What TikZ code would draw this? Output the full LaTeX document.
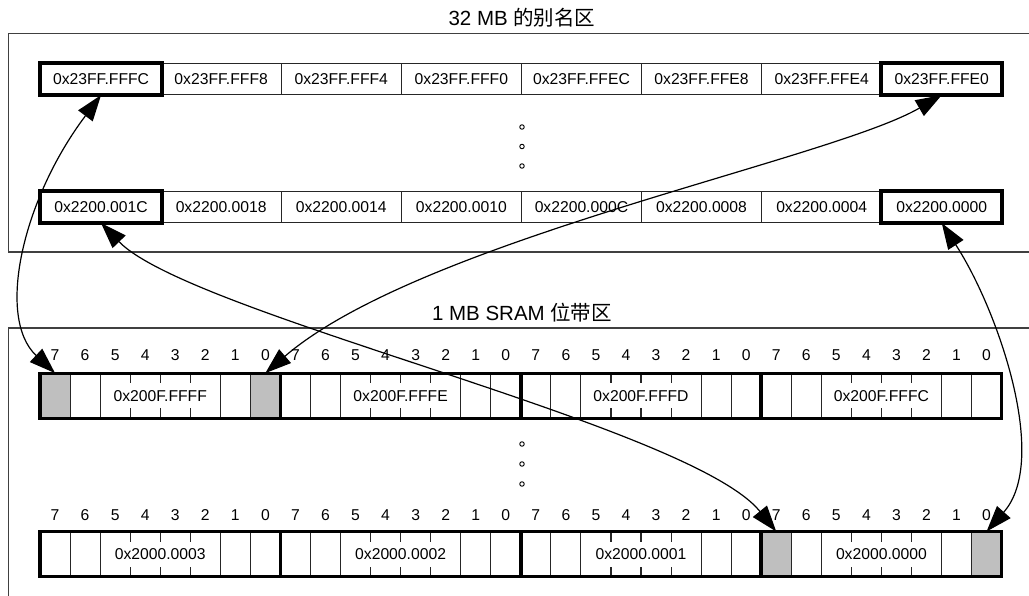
\documentclass[tikz,border=0pt]{standalone}
\usepackage{fontspec}
\setmainfont{Liberation Sans}
\newfontfamily\cjkfont{Noto Sans CJK SC}
\usetikzlibrary{arrows.meta,calc}
\tikzset{
  panel/.style={line width=1.5pt, draw=black!75},
  cell/.style={draw=black!85, line width=1.2pt, minimum width=120.1pt, minimum height=31pt, inner sep=0pt, font=\fontsize{15.7}{18}\selectfont},
  thickbox/.style={draw=black, line width=4pt},
  bytebox/.style={draw=black, line width=3.5pt},
  divider/.style={draw=black!85, line width=1.1pt},
  bitnum/.style={inner sep=0pt, font=\fontsize{15.7}{18}\selectfont},
  bytelabel/.style={inner sep=0pt, font=\fontsize{15.7}{18}\selectfont},
  graybit/.style={fill=black!25, minimum width=30.05pt, minimum height=45pt, inner sep=0pt},
  titlelabel/.style={inner sep=0pt, font=\fontsize{20.5}{24}\selectfont},
  dotmark/.style={circle, draw=black, line width=0.9pt, fill=white, minimum size=4.5pt, inner sep=0pt},
  link/.style={line width=1.2pt, {Triangle[length=26pt,width=18pt]}-{Triangle[length=26pt,width=18pt]}},
}
\begin{document}
\begin{tikzpicture}[x=1pt,y=-1pt]
\useasboundingbox (0,0) rectangle (1029,596);
\clip (0,0) rectangle (1029,596);
\fill[white] (0,0) rectangle (1029,596);

% panels
\draw[panel] (8.5,33.5) rectangle (1060,252);
\draw[panel] (8.5,328) rectangle (1060,640);

% titles
\node[titlelabel] (t1) at (522,18) {32 MB {\cjkfont 的别名区}};
\node[titlelabel] (t2) at (522,313) {1 MB SRAM {\cjkfont 位带区}};

% alias cells
\foreach \i/\t in {0/FFFC,1/FFF8,2/FFF4,3/FFF0,4/FFEC,5/FFE8,6/FFE4,7/FFE0}
  \node[cell] (a\i) at ({101.05+120.1*\i},79) {0x23FF.\t};
\foreach \i/\t in {0/001C,1/0018,2/0014,3/0010,4/000C,5/0008,6/0004,7/0000}
  \node[cell] (b\i) at ({101.05+120.1*\i},207) {0x2200.\t};
\foreach \n in {a0,a7,b0,b7}
  \draw[thickbox] (\n.north west) rectangle (\n.south east);

% dots
\foreach \y [count=\c] in {127,146.5,166}
  \node[dotmark] (du\c) at (522,\y) {};
\foreach \y [count=\c] in {444,464,484}
  \node[dotmark] (dl\c) at (522,\y) {};

% gray bits
\node[graybit] (gA7) at ({40+15.025},395.8) {};
\node[graybit] (gA0) at ({40+7*30.05+15.025},395.8) {};
\node[graybit] (gB7) at ({40+3*240.4+15.025},554.2) {};
\node[graybit] (gB0) at ({40+3*240.4+7*30.05+15.025},554.2) {};

% bit rows
\foreach \yc/\yn/\r/\pre/\la/\lb/\lc/\ld in {395.8/355/A/0x200F./FFFF/FFFE/FFFD/FFFC, 554.2/515.5/B/0x2000./0003/0002/0001/0000} {
  \foreach \j/\lab in {0/\la,1/\lb,2/\lc,3/\ld} {
    \pgfmathsetmacro\bx{40+240.4*\j}
    \pgfmathsetmacro\yt{\yc-22.5}
    \pgfmathsetmacro\yb{\yc+22.5}
    \foreach \k in {1,2,6,7}
      \draw[divider] (\bx+\k*30.05,\yt) -- (\bx+\k*30.05,\yb);
    \foreach \k in {3,4,5} {
      \draw[divider] (\bx+\k*30.05,\yt) -- ++(0,10);
      \draw[divider] (\bx+\k*30.05,\yb) -- ++(0,-10);
    }
    \node[bytelabel] (L\r\j) at (\bx+120.2,\yc) {\pre\lab};
    \foreach \k in {0,...,7} {
      \pgfmathtruncatemacro\nb{7-\k}
      \node[bitnum] (N\r\j\k) at (\bx+15.025+\k*30.05,\yn) {\nb};
    }
    \draw[bytebox] (\bx,\yt) rectangle (\bx+240.4,\yb);
  }
}

% links
\draw[link] (a0.south) .. controls (22,200) and (-4,318) .. (gA7.north);
\draw[link] (a7.south) .. controls (830,160) and (420,240) .. (gA0.north);
\draw[link] (b0.south) .. controls (190,315) and (690,425) .. (gB7.north);
\draw[link] (b7.south) .. controls (998,310) and (1050,460) .. (gB0.north);
\end{tikzpicture}
\end{document}
